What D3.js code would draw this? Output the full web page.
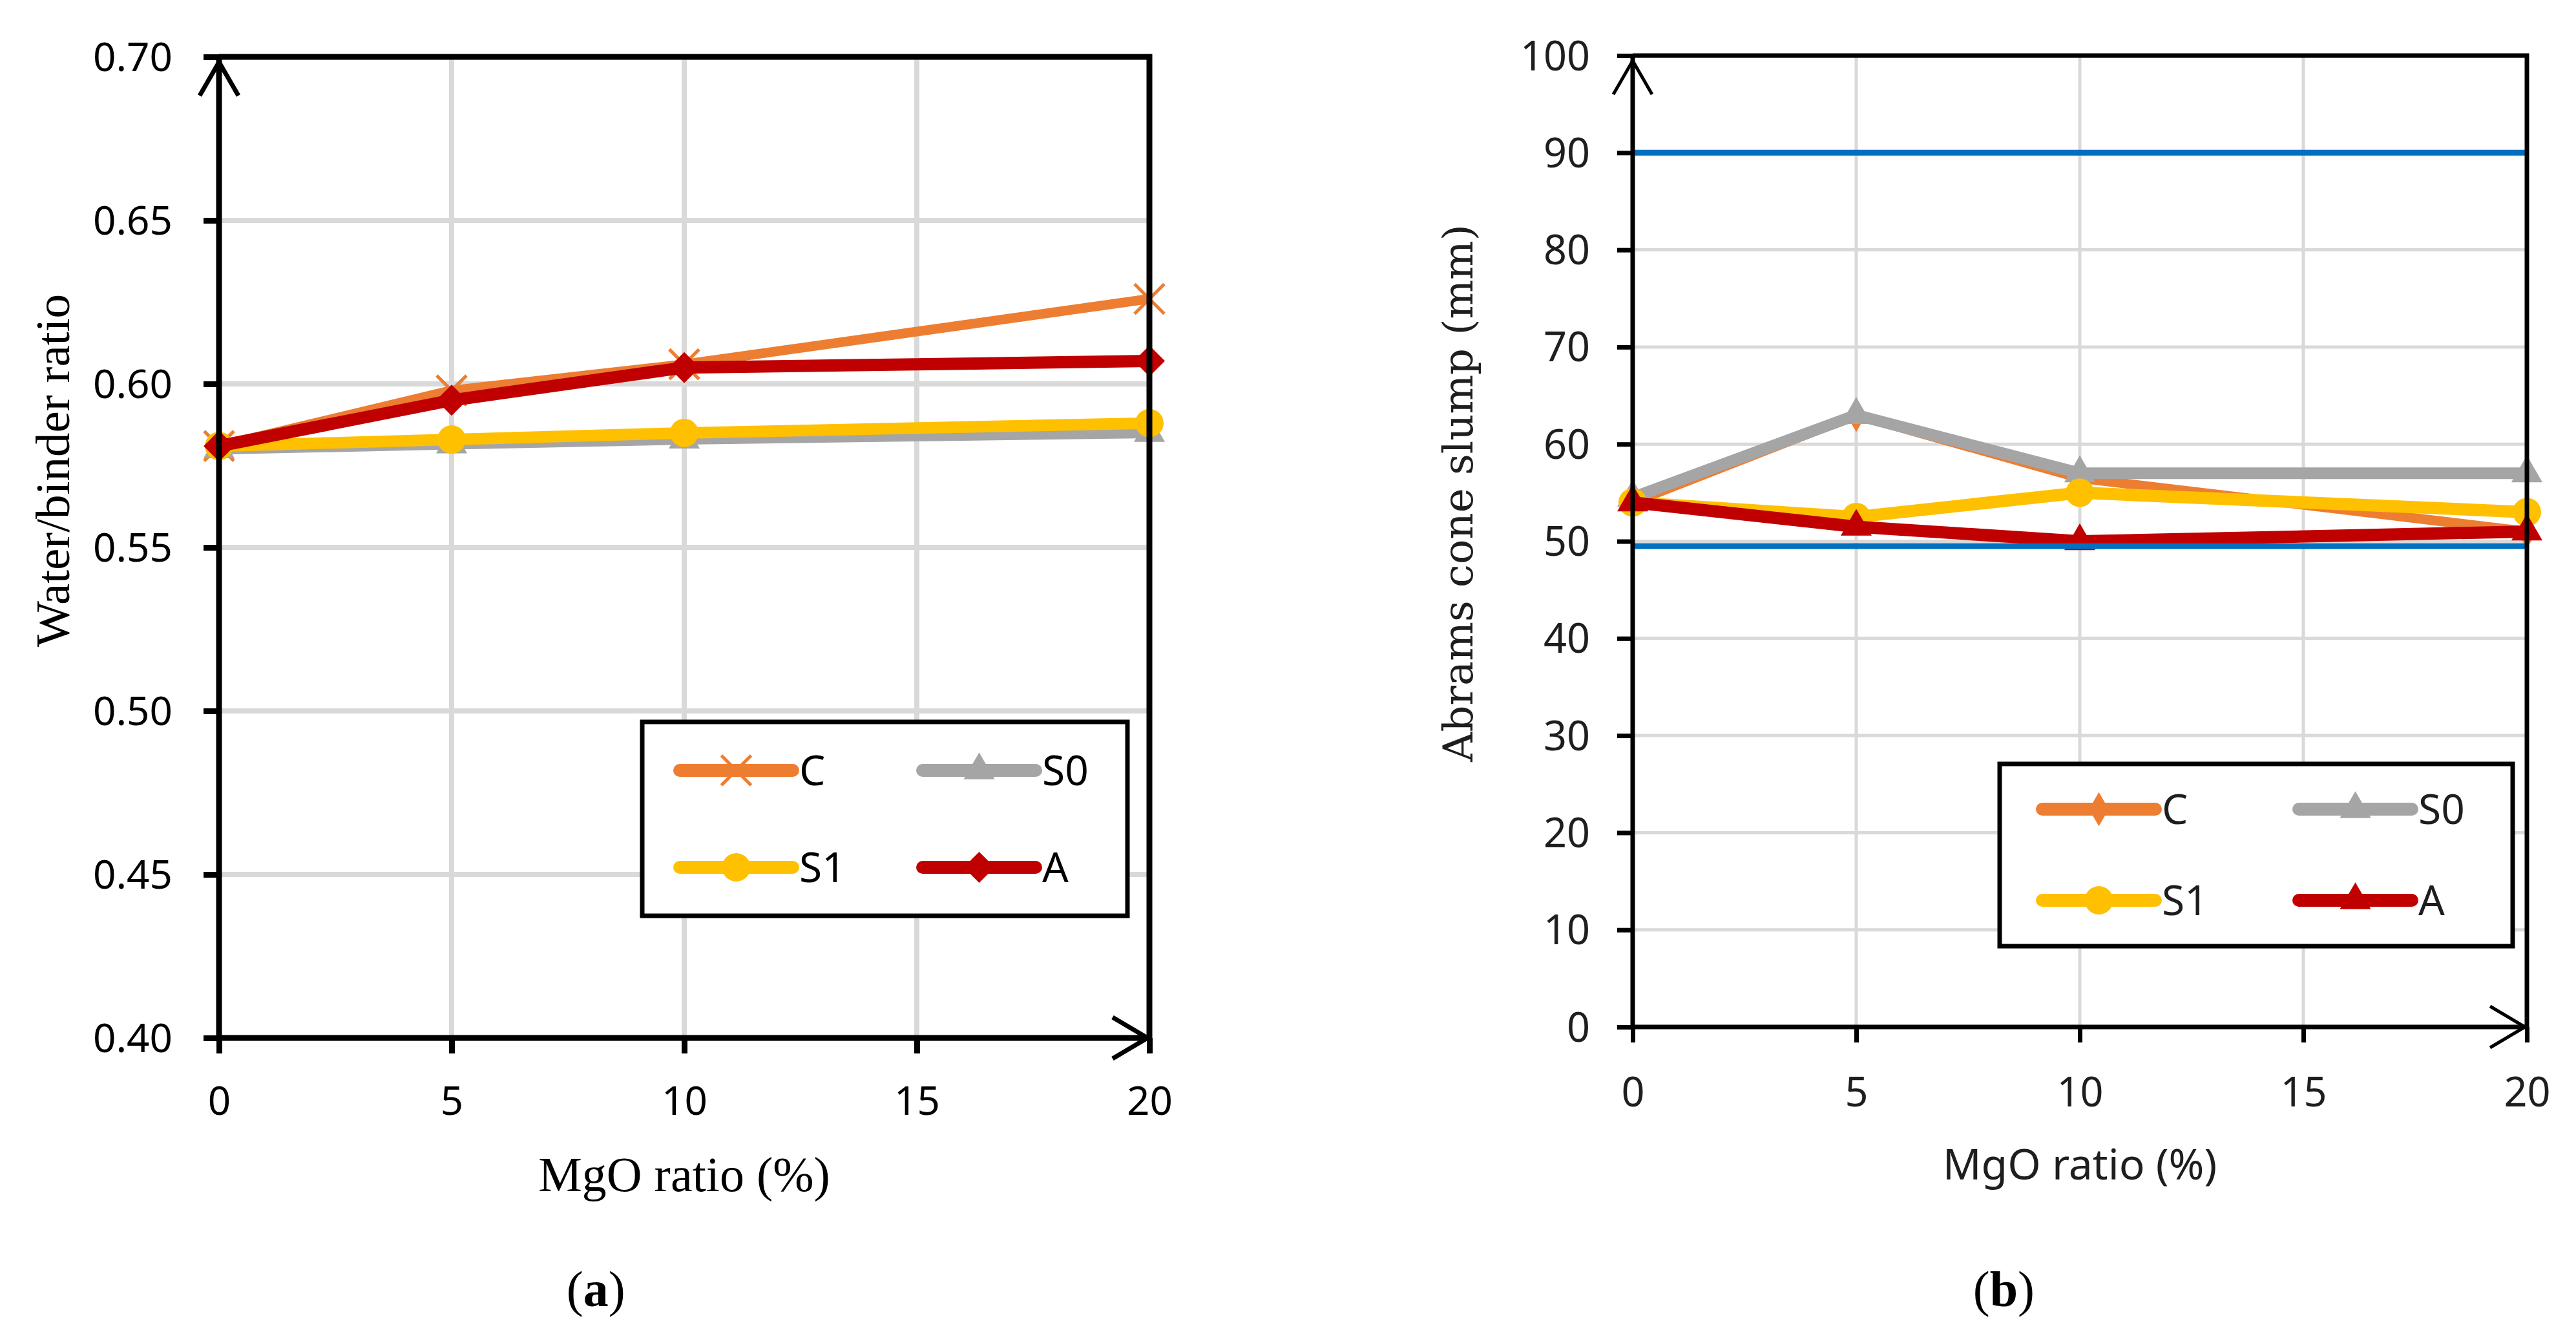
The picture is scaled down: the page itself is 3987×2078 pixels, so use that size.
<!DOCTYPE html>
<html>
<head>
<meta charset="utf-8">
<title>Water/binder ratio and Abrams cone slump vs MgO ratio</title>
<script src="https://cdn.jsdelivr.net/npm/d3@7/dist/d3.min.js"></script>
<style>
  body { margin: 0; background: #fff; }
  svg { display: block; }
</style>
</head>
<body>
<script>
// ---- data ----
var mgoRatio = [0, 5, 10, 20];
var xTicks = [0, 5, 10, 15, 20];
var seriesNames = ["C", "S0", "S1", "A"];

// (a) water/binder ratio
var wbC  = [0.581, 0.598, 0.606, 0.626];
var wbS0 = [0.580, 0.5815, 0.583, 0.585];
var wbS1 = [0.581, 0.583, 0.585, 0.588];
var wbA  = [0.581, 0.595, 0.605, 0.607];
var wbTicks = [0.40, 0.45, 0.50, 0.55, 0.60, 0.65, 0.70];

// (b) Abrams cone slump (mm)
var slumpC  = [54, 63, 56.5, 51];
var slumpS0 = [54.5, 63, 57, 57];
var slumpS1 = [54, 52.5, 55, 53];
var slumpA  = [54, 51.5, 50, 51];
var slumpLimits = [90, 49.5];
var slumpTicks = [0, 10, 20, 30, 40, 50, 60, 70, 80, 90, 100];

var colors = { C: "#ed7d31", S0: "#a5a5a5", S1: "#ffc000", A: "#c00000" };
var limitColor = "#0070c0";
var gridColor = "#d9d9d9";

var W = 3987, H = 2078;
var svg = d3.select("body").append("svg")
    .attr("width", W)
    .attr("height", H);

// custom "x" marker (stroked)
var symbolX = {
  draw: function (ctx, size) {
    var r = Math.sqrt(size) / 2;
    ctx.moveTo(-r, -r); ctx.lineTo(r, r);
    ctx.moveTo(r, -r); ctx.lineTo(-r, r);
  }
};

function markerPath(m) {
  return d3.symbol().type(m.type).size(m.size)();
}

function drawMarker(sel, m, color) {
  var p = sel.append("path")
      .attr("d", markerPath(m))
      .attr("transform", function () { return m.rotate ? "rotate(45)" : null; });
  if (m.stroke) {
    p.attr("fill", "none").attr("stroke", color).attr("stroke-width", m.stroke);
  } else {
    p.attr("fill", color);
  }
}

function drawPanel(p) {
  var g = svg.append("g");
  var x = d3.scaleLinear().domain([0, 20]).range([p.left, p.right]);
  var y = d3.scaleLinear().domain(p.yDomain).range([p.bottom, p.top]);

  // gridlines
  g.append("g").selectAll("line")
    .data(p.yTicks.slice(1, -1))
    .join("line")
      .attr("x1", p.left).attr("x2", p.right)
      .attr("y1", function (d) { return y(d); })
      .attr("y2", function (d) { return y(d); })
      .attr("stroke", gridColor).attr("stroke-width", p.gridW);
  g.append("g").selectAll("line")
    .data(xTicks.slice(1, -1))
    .join("line")
      .attr("y1", p.top).attr("y2", p.bottom)
      .attr("x1", function (d) { return x(d); })
      .attr("x2", function (d) { return x(d); })
      .attr("stroke", gridColor).attr("stroke-width", p.gridW);

  // series
  var line = d3.line()
      .x(function (d, i) { return x(mgoRatio[i]); })
      .y(function (d) { return y(d); });

  p.series.forEach(function (s) {
    g.append("path")
      .datum(s.values)
      .attr("d", line)
      .attr("fill", "none")
      .attr("stroke", colors[s.name])
      .attr("stroke-width", s.width)
      .attr("stroke-linejoin", "round");
    g.append("g").selectAll("g")
      .data(s.values)
      .join("g")
        .attr("transform", function (d, i) { return "translate(" + x(mgoRatio[i]) + "," + y(d) + ")"; })
        .each(function () { drawMarker(d3.select(this), s.marker, colors[s.name]); });
  });

  // horizontal limit lines
  if (p.limits) {
    g.append("g").selectAll("line")
      .data(p.limits)
      .join("line")
        .attr("x1", p.left).attr("x2", p.right)
        .attr("y1", function (d) { return y(d); })
        .attr("y2", function (d) { return y(d); })
        .attr("stroke", limitColor).attr("stroke-width", 9);
  }

  // frame (top and right)
  g.append("path")
    .attr("d", "M" + p.left + "," + p.top + "H" + p.right + "V" + p.bottom)
    .attr("fill", "none").attr("stroke", "#000").attr("stroke-width", p.axisW);

  // y axis
  var yAxis = d3.axisLeft(y)
      .tickValues(p.yTicks)
      .tickSize(p.tickLen)
      .tickSizeOuter(0)
      .tickPadding(p.yPad)
      .tickFormat(p.fmt);
  var ya = g.append("g")
      .attr("transform", "translate(" + p.left + ",0)")
      .call(yAxis);
  ya.select(".domain").remove();
  ya.selectAll(".tick line").attr("stroke", "#000").attr("stroke-width", p.axisW);
  ya.selectAll(".tick text")
      .attr("font-family", "'Noto Sans', sans-serif")
      .attr("font-size", p.tickFont)
      .attr("fill", p.textColor)
      .attr("dy", "0.35em");

  // x axis
  var xAxis = d3.axisBottom(x)
      .tickValues(xTicks)
      .tickSize(p.tickLen)
      .tickSizeOuter(0)
      .tickFormat(d3.format("d"));
  var xa = g.append("g")
      .attr("transform", "translate(0," + p.bottom + ")")
      .call(xAxis);
  xa.select(".domain").remove();
  xa.selectAll(".tick line").attr("stroke", "#000").attr("stroke-width", p.axisW);
  xa.selectAll(".tick text")
      .attr("font-family", "'Noto Sans', sans-serif")
      .attr("font-size", p.tickFont)
      .attr("fill", p.textColor)
      .attr("y", p.xLabelBase - p.bottom)
      .attr("dy", null);

  // axis lines with open arrows
  g.append("line")
    .attr("x1", p.left).attr("x2", p.left)
    .attr("y1", p.bottom + p.axisW / 2).attr("y2", p.top)
    .attr("stroke", "#000").attr("stroke-width", p.axisW);
  g.append("line")
    .attr("x1", p.left).attr("x2", p.right)
    .attr("y1", p.bottom).attr("y2", p.bottom)
    .attr("stroke", "#000").attr("stroke-width", p.axisW);
  g.append("path")
    .attr("d", d3.line()([[p.left - 30, p.top + 60], [p.left, p.top + 8], [p.left + 30, p.top + 60]]))
    .attr("fill", "none").attr("stroke", "#000").attr("stroke-width", p.arrowW);
  g.append("path")
    .attr("d", d3.line()([[p.right - 57, p.bottom - 32], [p.right - 3, p.bottom], [p.right - 57, p.bottom + 32]]))
    .attr("fill", "none").attr("stroke", "#000").attr("stroke-width", p.arrowW);

  // axis titles
  g.append("text")
    .attr("transform", "translate(" + p.yTitle.x + "," + p.yTitle.y + ") rotate(-90)")
    .attr("text-anchor", "middle")
    .attr("font-family", p.yTitle.family)
    .attr("font-size", p.yTitle.size)
    .attr("fill", p.textColor)
    .text(p.yTitle.text);
  g.append("text")
    .attr("x", x(10)).attr("y", p.xTitle.y)
    .attr("text-anchor", "middle")
    .attr("font-family", p.xTitle.family)
    .attr("font-size", p.xTitle.size)
    .attr("fill", p.textColor)
    .text("MgO ratio (%)");

  // legend
  var L = p.legend;
  g.append("rect")
    .attr("x", L.x).attr("y", L.y).attr("width", L.w).attr("height", L.h)
    .attr("fill", "#fff").attr("stroke", "#000").attr("stroke-width", L.stroke);
  p.series.forEach(function (s, i) {
    var col = i % 2, row = Math.floor(i / 2);
    var lx = L.colX[col], ly = L.rowY[row];
    var item = g.append("g");
    item.append("line")
      .attr("x1", lx).attr("x2", lx + L.lineLen)
      .attr("y1", ly).attr("y2", ly)
      .attr("stroke", colors[s.name]).attr("stroke-width", 20)
      .attr("stroke-linecap", "round");
    drawMarker(item.append("g").attr("transform", "translate(" + (lx + L.lineLen / 2) + "," + ly + ")"),
      s.marker, colors[s.name]);
    item.append("text")
      .attr("x", lx + L.lineLen + 10).attr("y", ly + 23)
      .attr("font-family", "'Noto Sans', sans-serif")
      .attr("font-size", 64)
      .attr("fill", p.textColor)
      .text(s.name);
  });

  // panel tag
  var tag = g.append("text")
    .attr("x", x(p.tagAt)).attr("y", 2021)
    .attr("text-anchor", "middle")
    .attr("font-family", "'Liberation Serif', serif")
    .attr("font-size", 78)
    .attr("fill", "#000");
  tag.append("tspan").text("(");
  tag.append("tspan").attr("font-weight", "bold").text(p.tag);
  tag.append("tspan").text(")");
}

var mX = { type: symbolX, size: 2116, stroke: 5 };
var mTri = { type: d3.symbolTriangle, size: 1000 };
var mCirc = { type: d3.symbolCircle, size: 1520 };
var mDia = { type: d3.symbolSquare, size: 1150, rotate: true };
var mNarrowDia = { type: d3.symbolDiamond, size: 800 };

drawPanel({
  left: 339, right: 1779, top: 88, bottom: 1606,
  yDomain: [0.40, 0.70], yTicks: wbTicks, fmt: d3.format(".2f"),
  gridW: 8, axisW: 9, arrowW: 7, tickLen: 24, yPad: 48,
  tickFont: 62, xLabelBase: 1725, textColor: "#000",
  series: [
    { name: "C", values: wbC, width: 15, marker: mX },
    { name: "S0", values: wbS0, width: 16, marker: mTri },
    { name: "S1", values: wbS1, width: 18, marker: mCirc },
    { name: "A", values: wbA, width: 19, marker: mDia }
  ],
  yTitle: { text: "Water/binder ratio", x: 107, y: 728, size: 75, family: "'Liberation Serif', serif" },
  xTitle: { y: 1843, size: 76, family: "'Liberation Serif', serif" },
  legend: { x: 994, y: 1117, w: 751, h: 300, stroke: 7,
            colX: [1052, 1428], rowY: [1192, 1342], lineLen: 175 },
  tag: "a", tagAt: 8.1
});

drawPanel({
  left: 2527, right: 3911, top: 86, bottom: 1589,
  yDomain: [0, 100], yTicks: slumpTicks, fmt: d3.format("d"),
  limits: slumpLimits,
  gridW: 5, axisW: 7, arrowW: 5, tickLen: 24, yPad: 42,
  tickFont: 63, xLabelBase: 1712, textColor: "#1e1e1e",
  series: [
    { name: "C", values: slumpC, width: 15, marker: mNarrowDia },
    { name: "S0", values: slumpS0, width: 18, marker: mTri },
    { name: "S1", values: slumpS1, width: 19, marker: mCirc },
    { name: "A", values: slumpA, width: 19, marker: mTri }
  ],
  yTitle: { text: "Abrams cone slump (mm)", x: 2279, y: 763, size: 64, family: "'DejaVu Serif', serif" },
  xTitle: { y: 1825, size: 66, family: "'Noto Sans', sans-serif" },
  legend: { x: 3095, y: 1182, w: 794, h: 282, stroke: 7,
            colX: [3161, 3558], rowY: [1252, 1393], lineLen: 175 },
  tag: "b", tagAt: 8.3
});
</script>
</body>
</html>
